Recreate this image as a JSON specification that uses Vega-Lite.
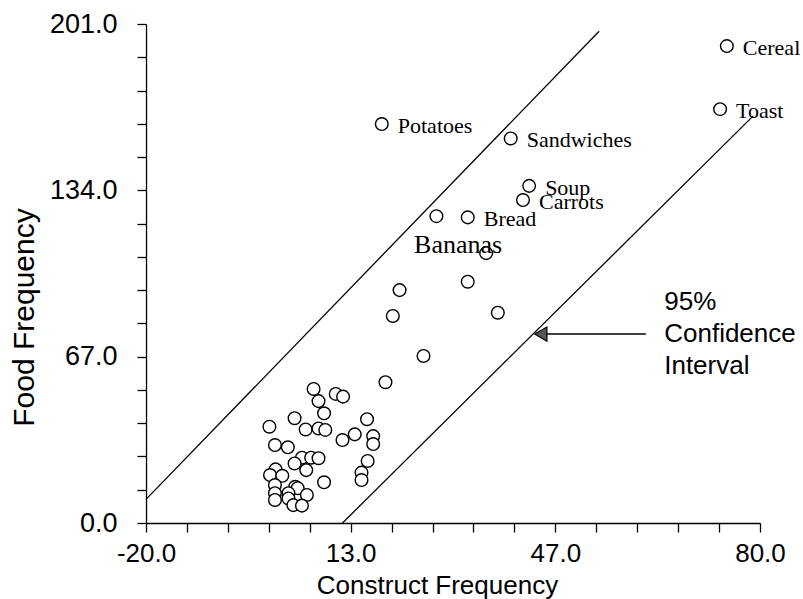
{
  "$schema": "https://vega.github.io/schema/vega-lite/v6.json",
  "width": 614,
  "height": 499,
  "autosize": {"type": "none"},
  "padding": {"left": 146, "top": 24, "right": 43, "bottom": 76},
  "background": "white",
  "config": {
    "view": {"stroke": null},
    "axis": {
      "grid": false,
      "domainColor": "black",
      "tickColor": "black",
      "labelColor": "black",
      "titleColor": "black",
      "labelFont": "Liberation Sans",
      "titleFont": "Liberation Sans",
      "titleFontWeight": "normal",
      "domainWidth": 1.3,
      "tickWidth": 1.3,
      "tickSize": 9,
      "labelOverlap": false,
      "labelFlush": false
    }
  },
  "datasets": {
    "foods": [
      {"x": 7.3, "y": 54.0}, {"x": 10.9, "y": 52.0}, {"x": 12.1, "y": 50.9}, {"x": 19.0, "y": 56.7},
      {"x": 8.1, "y": 49.1}, {"x": 9.0, "y": 44.2}, {"x": 4.2, "y": 42.2}, {"x": 16.0, "y": 41.8},
      {"x": 0.1, "y": 38.8}, {"x": 6.0, "y": 37.7}, {"x": 8.1, "y": 38.1}, {"x": 9.2, "y": 37.5},
      {"x": 14.0, "y": 35.7}, {"x": 12.0, "y": 33.4}, {"x": 17.0, "y": 35.0}, {"x": 17.0, "y": 31.8},
      {"x": 1.0, "y": 31.4}, {"x": 3.1, "y": 30.5}, {"x": 5.4, "y": 26.3}, {"x": 6.9, "y": 26.3},
      {"x": 8.1, "y": 26.1}, {"x": 4.2, "y": 24.0}, {"x": 6.1, "y": 21.3}, {"x": 16.1, "y": 25.0},
      {"x": 1.1, "y": 21.6}, {"x": 0.2, "y": 19.3}, {"x": 2.2, "y": 19.0}, {"x": 15.1, "y": 20.3},
      {"x": 15.1, "y": 17.3}, {"x": 9.0, "y": 16.4}, {"x": 1.0, "y": 15.3}, {"x": 4.3, "y": 14.6},
      {"x": 4.7, "y": 14.0}, {"x": 3.2, "y": 12.0}, {"x": 6.2, "y": 11.3}, {"x": 1.0, "y": 12.0},
      {"x": 1.0, "y": 9.3}, {"x": 3.2, "y": 9.9}, {"x": 4.0, "y": 7.2}, {"x": 5.4, "y": 7.0},
      {"x": 25.2, "y": 67.3}, {"x": 20.2, "y": 83.4}, {"x": 21.3, "y": 93.8}, {"x": 32.4, "y": 97.2},
      {"x": 37.3, "y": 84.7}, {"x": 35.4, "y": 108.7, "label": "Bananas"}, {"x": 27.3, "y": 123.6},
      {"x": 32.4, "y": 123.1, "label": "Bread"}, {"x": 41.4, "y": 130.1, "label": "Carrots"},
      {"x": 42.4, "y": 135.8, "label": "Soup"}, {"x": 39.4, "y": 154.9, "label": "Sandwiches"},
      {"x": 18.4, "y": 160.7, "label": "Potatoes"}, {"x": 73.5, "y": 166.7, "label": "Toast"},
      {"x": 74.6, "y": 192.1, "label": "Cereal"}
    ],
    "ci": [
      {"line": "upper", "x": -20, "y": 9.5},
      {"line": "upper", "x": 53.8, "y": 198.1},
      {"line": "lower", "x": 12.0, "y": 0},
      {"line": "lower", "x": 78.9, "y": 164}
    ],
    "arrow": [
      {"x": 61.4, "x2": 43.5, "y": 76.1}
    ],
    "arrowhead": [
      {"x": 44.3, "y": 76.1}
    ],
    "note": [
      {"x": 64.4, "y": 89.1, "text": "95%\nConfidence\nInterval"}
    ]
  },
  "encoding": {
    "x": {
      "field": "x",
      "type": "quantitative",
      "scale": {"domain": [-20, 80], "nice": false, "zero": false},
      "axis": {
        "title": "Construct Frequency",
        "values": [-20, -13.3333, -6.6667, 0, 6.6667, 13.3333, 20, 26.6667, 33.3333, 40, 46.6667, 53.3333, 60, 66.6667, 73.3333, 80],
        "labelExpr": "abs((datum.value + 20) / 33.3333 - round((datum.value + 20) / 33.3333)) < 0.01 ? (datum.value < 0 ? '-' : '') + format(abs(round(datum.value)), '.1f') : ''",
        "labelFontSize": 26,
        "titleFontSize": 26,
        "labelDx": -10,
        "labelPadding": 8,
        "titleX": 291,
        "titleY": 62,
        "titleBaseline": "middle"
      }
    },
    "y": {
      "field": "y",
      "type": "quantitative",
      "scale": {"domain": [0, 201], "nice": false, "zero": false},
      "axis": {
        "title": "Food Frequency",
        "values": [0, 13.4, 26.8, 40.2, 53.6, 67, 80.4, 93.8, 107.2, 120.6, 134, 147.4, 160.8, 174.2, 187.6, 201],
        "labelExpr": "abs(datum.value / 67 - round(datum.value / 67)) < 0.01 ? format(datum.value, '.1f') : ''",
        "labelFontSize": 27,
        "titleFontSize": 30,
        "labelPadding": 20,
        "titleX": -122,
        "titleY": 293,
        "titleBaseline": "middle"
      }
    }
  },
  "layer": [
    {
      "data": {"name": "ci"},
      "mark": {"type": "line", "color": "black", "strokeWidth": 1.3},
      "encoding": {"detail": {"field": "line"}}
    },
    {
      "data": {"name": "arrow"},
      "mark": {"type": "rule", "color": "black", "strokeWidth": 1.5},
      "encoding": {"x2": {"field": "x2"}}
    },
    {
      "data": {"name": "arrowhead"},
      "mark": {"type": "point", "shape": "triangle-left", "size": 200, "filled": true, "fill": "#555555", "stroke": "black", "strokeWidth": 1.2, "opacity": 1},
      "encoding": {}
    },
    {
      "data": {"name": "foods"},
      "mark": {"type": "circle", "size": 160, "fill": "white", "stroke": "black", "strokeWidth": 1.4, "opacity": 1},
      "encoding": {}
    },
    {
      "data": {"name": "foods"},
      "transform": [{"filter": "datum.label && datum.label != 'Bananas'"}],
      "mark": {"type": "text", "align": "left", "baseline": "middle", "dx": 16, "dy": 2, "font": "Liberation Serif", "fontSize": 22, "color": "black"},
      "encoding": {"text": {"field": "label"}}
    },
    {
      "data": {"name": "foods"},
      "transform": [{"filter": "datum.label == 'Bananas'"}],
      "mark": {"type": "text", "align": "center", "baseline": "middle", "dx": -28, "dy": -8, "font": "Liberation Serif", "fontSize": 26, "color": "black"},
      "encoding": {"text": {"field": "label"}}
    },
    {
      "data": {"name": "note"},
      "mark": {"type": "text", "align": "left", "baseline": "middle", "lineBreak": "\n", "lineHeight": 32, "font": "Liberation Sans", "fontSize": 26, "color": "black"},
      "encoding": {"text": {"field": "text"}}
    }
  ]
}
